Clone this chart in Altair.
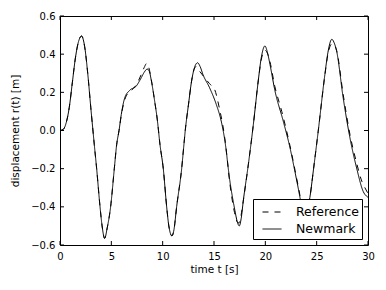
import altair as alt
import pandas as pd

# Newmark (solid)
t_new = [0.0, 0.3, 0.6, 0.9, 1.2, 1.5, 1.8, 2.1, 2.4, 2.7, 3.0, 3.34, 3.57, 3.9, 4.1, 4.35, 4.6, 4.93,
         5.29, 5.52, 5.75, 5.97, 6.3, 6.78, 7.43, 7.92, 8.2, 8.5, 8.7, 8.9, 9.22, 9.47, 9.74, 10.06,
         10.39, 10.6, 10.9, 11.1, 11.36, 11.85, 12.07, 12.2, 12.5, 12.82, 13.1, 13.4, 13.65, 13.92,
         14.57, 15.22, 15.7, 16.05, 16.55, 17.04, 17.25, 17.46, 17.65, 17.85, 18.34, 18.83, 19.31,
         19.6, 19.96, 20.2, 20.45, 20.93, 21.74, 22.4, 22.9, 23.37, 23.6, 23.85, 24.1, 24.34, 24.7,
         25.15, 25.8, 26.1, 26.48, 26.7, 26.94, 27.58, 28.24, 28.89, 29.53, 30.0]
y_new = [0.0, 0.005, 0.04, 0.12, 0.25, 0.38, 0.465, 0.495, 0.44, 0.30, 0.12, -0.074, -0.2, -0.4, -0.5,
         -0.565, -0.51, -0.4, -0.2, -0.074, 0.0, 0.084, 0.17, 0.21, 0.233, 0.277, 0.305, 0.322, 0.31,
         0.26, 0.154, 0.06, -0.074, -0.2, -0.4, -0.5, -0.552, -0.52, -0.4, -0.2, -0.074, 0.0, 0.13,
         0.26, 0.33, 0.355, 0.335, 0.294, 0.224, 0.137, 0.05, -0.05, -0.266, -0.42, -0.475, -0.5,
         -0.46, -0.37, -0.18, 0.03, 0.26, 0.38, 0.443, 0.41, 0.347, 0.21, 0.05, -0.09, -0.22, -0.35,
         -0.42, -0.45, -0.42, -0.35, -0.20, -0.004, 0.294, 0.41, 0.478, 0.46, 0.417, 0.172, -0.038,
         -0.196, -0.319, -0.35]

# Reference (dashed)
t_ref = [0.0, 0.3, 0.6, 0.9, 1.2, 1.5, 1.8, 2.1, 2.4, 2.7, 3.0, 3.34, 3.57, 3.9, 4.1, 4.35, 4.6, 4.93,
         5.29, 5.52, 5.75, 5.97, 6.3, 6.55, 6.85, 7.43, 7.92, 8.2, 8.45, 8.65, 8.9, 9.22, 9.47, 9.74,
         10.06, 10.39, 10.6, 10.9, 11.1, 11.36, 11.85, 12.07, 12.2, 12.5, 12.82, 13.0, 13.25, 13.6,
         14.09, 14.57, 15.06, 15.55, 15.85, 16.1, 16.55, 17.0, 17.25, 17.42, 17.65, 17.85, 18.34,
         18.83, 19.31, 19.6, 19.96, 20.1, 20.45, 20.93, 21.6, 22.4, 22.9, 23.37, 23.6, 23.85, 24.1,
         24.34, 24.7, 25.15, 25.8, 26.1, 26.5, 26.7, 26.94, 27.58, 28.24, 28.89, 29.4, 29.7, 30.0]
y_ref = [0.0, 0.005, 0.04, 0.12, 0.25, 0.38, 0.465, 0.495, 0.44, 0.30, 0.12, -0.074, -0.2, -0.4, -0.5,
         -0.565, -0.51, -0.4, -0.2, -0.074, 0.0, 0.08, 0.16, 0.19, 0.205, 0.24, 0.294, 0.33, 0.352,
         0.33, 0.265, 0.154, 0.06, -0.074, -0.2, -0.4, -0.5, -0.552, -0.52, -0.4, -0.2, -0.074, 0.0,
         0.13, 0.26, 0.31, 0.335, 0.31, 0.277, 0.245, 0.215, 0.11, 0.03, -0.06, -0.28, -0.43, -0.478,
         -0.485, -0.44, -0.37, -0.18, 0.03, 0.26, 0.37, 0.42, 0.415, 0.36, 0.23, 0.10, -0.08, -0.21,
         -0.34, -0.41, -0.44, -0.41, -0.35, -0.20, -0.004, 0.29, 0.40, 0.455, 0.45, 0.42, 0.19, -0.02,
         -0.17, -0.266, -0.30, -0.33]

series = ["Reference", "Newmark"]
x_ticks = [0, 5, 10, 15, 20, 25, 30]
y_ticks = [-0.6, -0.4, -0.2, 0.0, 0.2, 0.4, 0.6]

W, H = 308, 229
FONT = "DejaVu Sans"

df = pd.concat([
    pd.DataFrame({"t": t_ref, "y": y_ref, "series": "Reference"}),
    pd.DataFrame({"t": t_new, "y": y_new, "series": "Newmark"}),
])

xscale = alt.Scale(domain=[0, 30], nice=False, zero=False)
yscale = alt.Scale(domain=[-0.6, 0.6], nice=False, zero=False)

x_axis = alt.Axis(values=x_ticks, title="time t [s]", format="d",
                  domain=False, ticks=False, grid=False, labelOverlap=False,
                  labelFlush=False, labelPadding=6, titlePadding=3,
                  labelFont=FONT, labelFontSize=10, labelColor="black",
                  titleFont=FONT, titleFontSize=10.5, titleColor="black",
                  titleFontWeight="normal")
y_axis = alt.Axis(values=y_ticks, title="displacement r(t) [m]", format=".1f",
                  domain=False, ticks=False, grid=False, labelOverlap=False,
                  labelFlush=False, labelPadding=5, titlePadding=10,
                  labelFont=FONT, labelFontSize=10, labelColor="black",
                  titleFont=FONT, titleFontSize=10.5, titleColor="black",
                  titleFontWeight="normal")

lines = alt.Chart(df).mark_line(color="black", strokeWidth=1, interpolate="monotone").encode(
    x=alt.X("t:Q", scale=xscale, axis=x_axis),
    y=alt.Y("y:Q", scale=yscale, axis=y_axis),
    strokeDash=alt.StrokeDash("series:N",
                              scale=alt.Scale(domain=series, range=[[6, 6], [1, 0]]),
                              legend=alt.Legend(title=None, orient="bottom-right", offset=6,
                                                symbolType="stroke", symbolSize=361,
                                                symbolStrokeWidth=1, symbolStrokeColor="black",
                                                symbolOffset=6,
                                                labelFont=FONT, labelFontSize=12.5, labelColor="black",
                                                labelOffset=14, strokeColor="black",
                                                fillColor="white", padding=3, cornerRadius=0,
                                                rowPadding=0)),
    order=alt.Order("t:Q"),
)

xt = pd.DataFrame({"t": x_ticks})
yt = pd.DataFrame({"y": y_ticks})

tick_bottom = alt.Chart(xt).mark_rule(color="black", strokeWidth=1).encode(
    x=alt.X("t:Q", scale=xscale, axis=x_axis), y=alt.value(H - 4), y2=alt.value(H))
tick_top = alt.Chart(xt).mark_rule(color="black", strokeWidth=1).encode(
    x=alt.X("t:Q", scale=xscale, axis=x_axis), y=alt.value(0), y2=alt.value(4))
tick_left = alt.Chart(yt).mark_rule(color="black", strokeWidth=1).encode(
    y=alt.Y("y:Q", scale=yscale, axis=y_axis), x=alt.value(0), x2=alt.value(4))
tick_right = alt.Chart(yt).mark_rule(color="black", strokeWidth=1).encode(
    y=alt.Y("y:Q", scale=yscale, axis=y_axis), x=alt.value(W - 4), x2=alt.value(W))

chart = alt.layer(lines, tick_bottom, tick_top, tick_left, tick_right).properties(
    width=W, height=H,
    autosize=alt.AutoSizeParams(type="none"),
    padding={"left": 52, "top": 8, "right": 10, "bottom": 35},
    background="white",
).configure_view(
    stroke="black", strokeWidth=1
)

chart.save("out.html", embed_options={"renderer": "svg", "actions": False})
